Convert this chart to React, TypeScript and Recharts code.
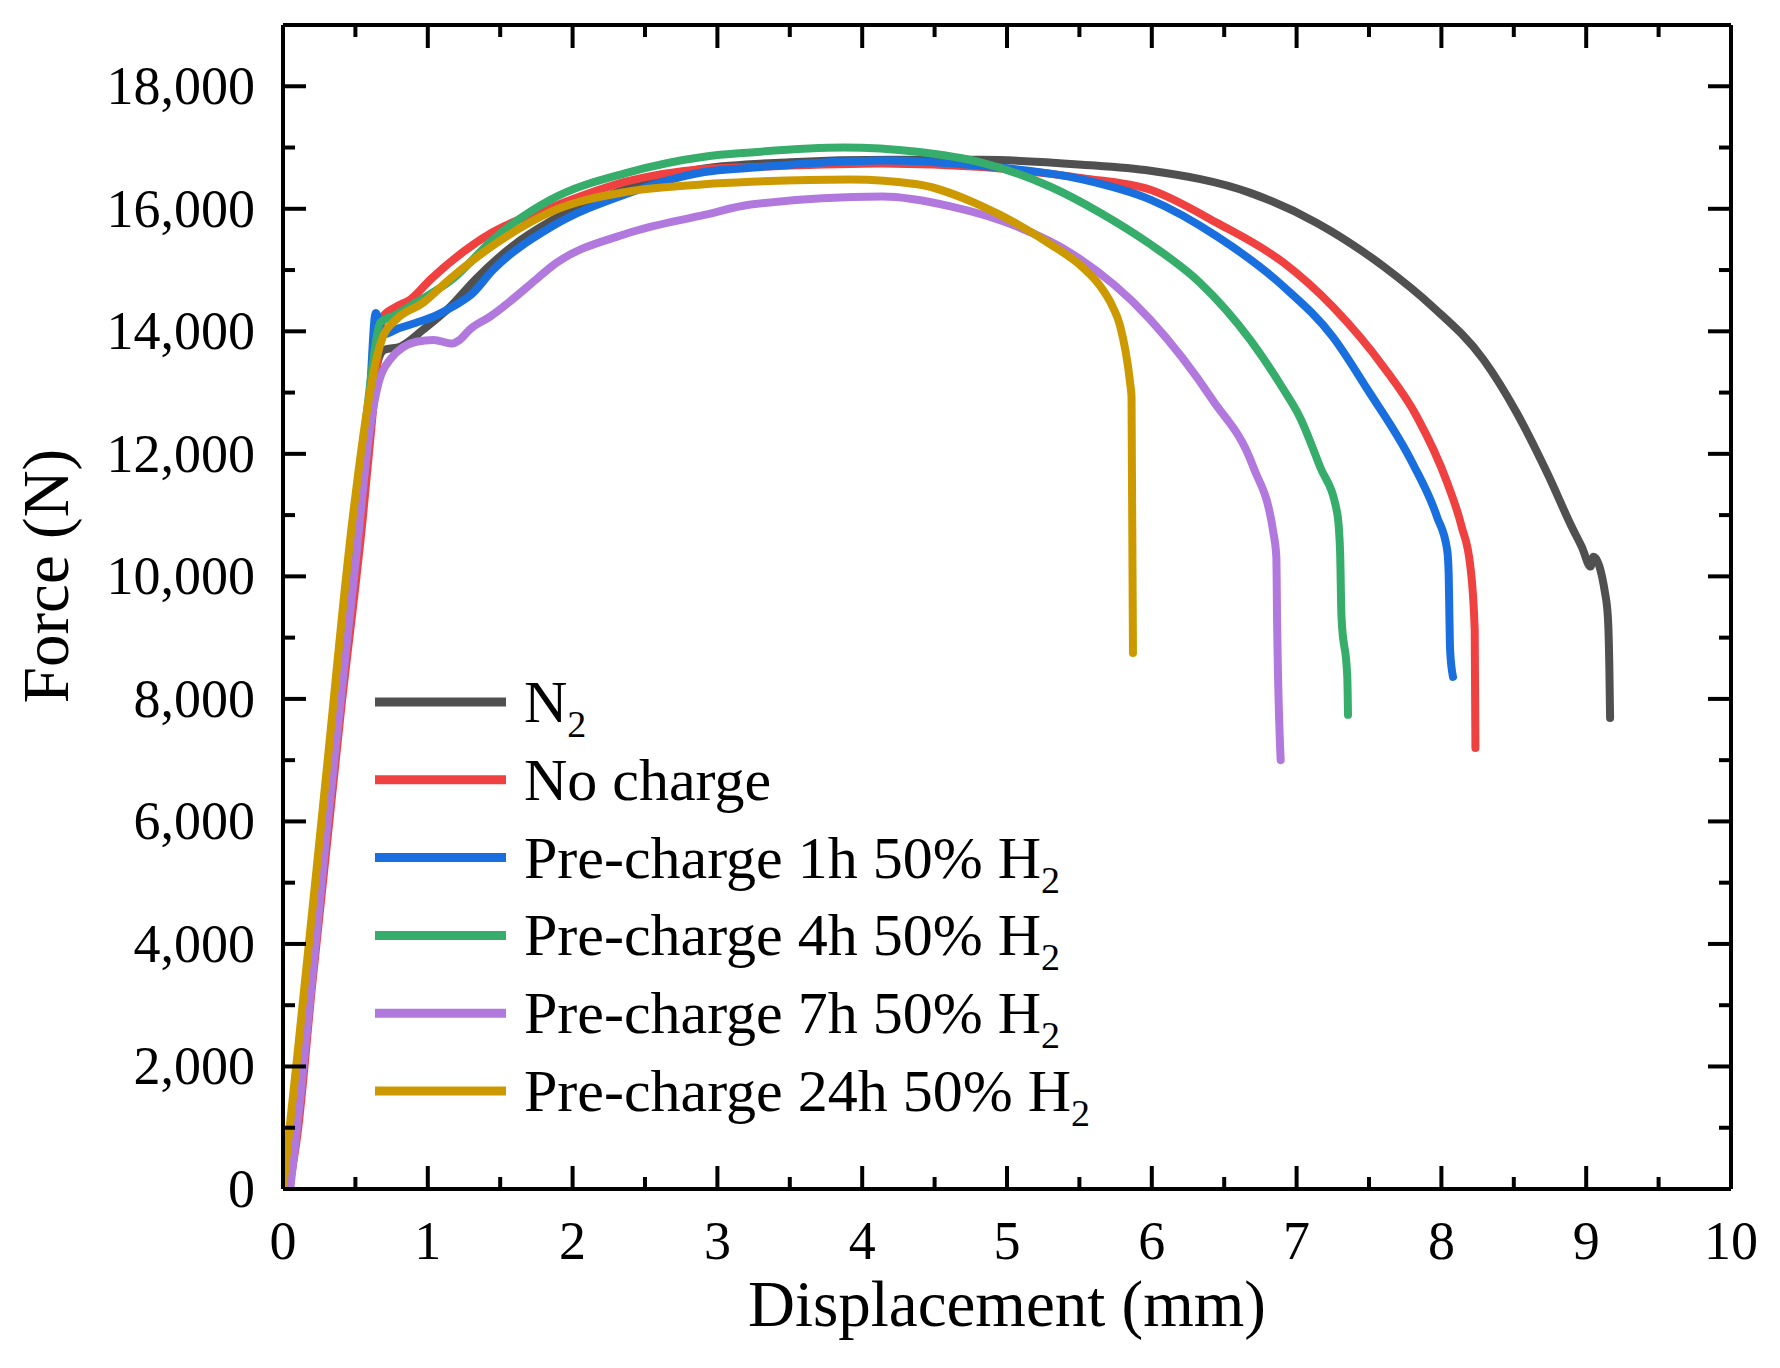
import { LineChart, Line, XAxis, YAxis, Legend, Label } from "recharts";

const FONT = '"Liberation Serif", "Times New Roman", serif';

// displacement (mm), force (N)
const n2Curve = [
  [0.01, 0], [0.08, 1500], [0.3, 6300], [0.5, 10600], [0.6, 12700], [0.66, 13550],
  [0.7, 13700], [0.81, 13750], [0.97, 14030], [1.15, 14390], [1.33, 14850], [1.59, 15400],
  [1.85, 15800], [2.38, 16330], [2.91, 16660], [3.5, 16760], [4.2, 16800], [4.83, 16800],
  [5.52, 16720], [5.99, 16620], [6.68, 16260], [7.14, 15770], [7.6, 15060], [7.94, 14400],
  [8.29, 13540], [8.52, 12670], [8.73, 11690], [8.91, 10760], [8.97, 10480], [9.03, 10160],
  [9.05, 10320], [9.13, 9730], [9.15, 9325], [9.16, 8500], [9.165, 7690],
];
const noChargeCurve = [
  [0.04, 0], [0.1, 900], [0.2, 3300], [0.4, 7800], [0.55, 10930], [0.62, 12670],
  [0.66, 13700], [0.69, 14240], [0.78, 14400], [0.88, 14520], [1.02, 14850], [1.45, 15620],
  [1.85, 16020], [2.38, 16450], [2.91, 16650], [3.23, 16680], [4.14, 16740], [4.83, 16680],
  [5.52, 16500], [5.99, 16310], [6.45, 15770], [6.91, 15120], [7.25, 14400], [7.6, 13420],
  [7.83, 12610], [8.04, 11530], [8.14, 10810], [8.2, 10160], [8.23, 9130], [8.235, 7200],
];
const h1Curve = [
  [0.02, 0], [0.1, 1600], [0.3, 6300], [0.5, 10700], [0.6, 13000], [0.64, 14300],
  [0.66, 14200], [0.69, 13950], [0.8, 14050], [0.92, 14140], [1.05, 14250], [1.17, 14400],
  [1.3, 14600], [1.45, 15000], [1.85, 15700], [2.38, 16250], [2.91, 16600], [3.23, 16670],
  [4.14, 16790], [4.83, 16700], [5.52, 16480], [5.99, 16150], [6.45, 15550], [6.91, 14730],
  [7.25, 13910], [7.49, 13050], [7.8, 11850], [7.97, 10970], [8.04, 10430], [8.05, 10060],
  [8.055, 9400], [8.06, 8800], [8.08, 8360],
];
const h4Curve = [
  [0.02, 0], [0.1, 1700], [0.3, 6400], [0.5, 10800], [0.6, 13100], [0.64, 13800],
  [0.67, 14140], [0.78, 14270], [0.92, 14470], [1.17, 14850], [1.45, 15500], [1.85, 16150],
  [2.38, 16590], [2.91, 16850], [3.23, 16920], [3.87, 17000], [4.38, 16930], [4.83, 16750],
  [5.3, 16360], [5.64, 15940], [5.99, 15420], [6.33, 14800], [6.68, 13860], [6.91, 13050],
  [7.02, 12610], [7.16, 11800], [7.28, 11040], [7.3, 10430], [7.31, 9340], [7.35, 8360],
  [7.355, 7740],
];
const h7Curve = [
  [0.05, 0], [0.12, 1500], [0.3, 5800], [0.5, 10200], [0.6, 12400], [0.66, 13160],
  [0.74, 13540], [0.92, 13830], [1.04, 13860], [1.17, 13800], [1.22, 13860], [1.29, 14030],
  [1.43, 14240], [1.75, 14850], [1.85, 15050], [2.38, 15600], [2.91, 15900], [3.23, 16070],
  [4.14, 16200], [4.61, 16040], [5.07, 15710], [5.46, 15250], [5.99, 14190], [6.42, 12880],
  [6.7, 11790], [6.84, 10710], [6.86, 10320], [6.865, 9340], [6.89, 7000],
];
const h24Curve = [
  [0.0, 0], [0.1, 2200], [0.3, 6800], [0.48, 10930], [0.6, 13000], [0.65, 13600],
  [0.69, 13910], [0.78, 14190], [0.97, 14470], [1.15, 14850], [1.45, 15400], [1.85, 15950],
  [2.38, 16280], [2.91, 16400], [3.23, 16440], [3.92, 16480], [4.38, 16400], [4.83, 16040],
  [5.3, 15420], [5.52, 15050], [5.64, 14750], [5.73, 14400], [5.78, 14100], [5.85, 13160],
  [5.86, 12930], [5.87, 8750],
];

const curves = [n2Curve, noChargeCurve, h1Curve, h4Curve, h7Curve, h24Curve];
const seriesNames = ["N2", "No charge", "Pre-charge 1h 50% H2", "Pre-charge 4h 50% H2", "Pre-charge 7h 50% H2", "Pre-charge 24h 50% H2"];
const legendMain = ["N", "No charge", "Pre-charge 1h 50% H", "Pre-charge 4h 50% H", "Pre-charge 7h 50% H", "Pre-charge 24h 50% H"];
const legendSub = ["2", "", "2", "2", "2", "2"];
const colors = ["#505050", "#f04141", "#1a6fdf", "#37ad6b", "#b178de", "#cc9a00"];

const xTicks = [0, 0.5, 1, 1.5, 2, 2.5, 3, 3.5, 4, 4.5, 5, 5.5, 6, 6.5, 7, 7.5, 8, 8.5, 9, 9.5, 10];
const yTicks = [0, 1000, 2000, 3000, 4000, 5000, 6000, 7000, 8000, 9000, 10000, 11000, 12000, 13000, 14000, 15000, 16000, 17000, 18000];

const isMajorX = (v: number) => Number.isInteger(v);
const isMajorY = (v: number) => v % 2000 === 0;

const BottomTick = ({ x, y, payload }: any) => {
  const major = isMajorX(payload.value);
  return (
    <g>
      <line x1={x} x2={x} y1={y} y2={y - (major ? 23 : 12)} stroke="#000" strokeWidth={4} />
      {major && (
        <text x={x} y={y + 70} textAnchor="middle" fontSize={54} fontFamily={FONT} fill="#000">
          {payload.value}
        </text>
      )}
    </g>
  );
};

const TopTick = ({ x, y, payload }: any) => {
  const major = isMajorX(payload.value);
  return <line x1={x} x2={x} y1={y} y2={y + (major ? 23 : 12)} stroke="#000" strokeWidth={4} />;
};

const LeftTick = ({ x, y, payload }: any) => {
  const major = isMajorY(payload.value);
  return (
    <g>
      <line x1={x} x2={x + (major ? 23 : 12)} y1={y} y2={y} stroke="#000" strokeWidth={4} />
      {major && (
        <text x={x - 28} y={y + 18} textAnchor="end" fontSize={54} fontFamily={FONT} fill="#000">
          {payload.value.toLocaleString("en-US")}
        </text>
      )}
    </g>
  );
};

const RightTick = ({ x, y, payload }: any) => {
  const major = isMajorY(payload.value);
  return <line x1={x} x2={x - (major ? 23 : 12)} y1={y} y2={y} stroke="#000" strokeWidth={4} />;
};

const LegendBox = () => (
  <svg width={900} height={500}>
    {legendMain.map((txt, i) => {
      const cy = 52 + i * 77.8;
      return (
        <g key={seriesNames[i]}>
          <line x1={15} x2={146} y1={cy} y2={cy} stroke={colors[i]} strokeWidth={9} />
          <text x={164} y={cy + 20} fontSize={60} fontFamily={FONT} fill="#000">
            {txt}
            {legendSub[i] && (
              <tspan fontSize={38} dy={15}>
                {legendSub[i]}
              </tspan>
            )}
          </text>
        </g>
      );
    })}
  </svg>
);

const axisLine = { stroke: "#000", strokeWidth: 4 };

export default function App() {
  return (
    <div style={{ position: "absolute", left: 0, top: 0, background: "#fff", fontFamily: FONT }}>
      <LineChart width={1780} height={1368} margin={{ top: 15, right: 39, bottom: 79, left: 0 }}>
        <XAxis
          xAxisId="b"
          type="number"
          dataKey="x"
          domain={[0, 10]}
          ticks={xTicks}
          interval={0}
          allowDataOverflow
          height={100}
          tickSize={0}
          tickMargin={0}
          tickLine={false}
          axisLine={axisLine}
          tick={<BottomTick />}
        >
          <Label
            content={({ viewBox }: any) => (
              <text
                x={viewBox.x + viewBox.width / 2}
                y={viewBox.y + 137}
                textAnchor="middle"
                fontSize={65}
                fontFamily={FONT}
                fill="#000"
              >
                Displacement (mm)
              </text>
            )}
          />
        </XAxis>
        <XAxis
          xAxisId="t"
          orientation="top"
          type="number"
          dataKey="x"
          domain={[0, 10]}
          ticks={xTicks}
          interval={0}
          allowDataOverflow
          height={10}
          tickSize={0}
          tickMargin={0}
          tickLine={false}
          axisLine={axisLine}
          tick={<TopTick />}
        />
        <YAxis
          yAxisId="l"
          type="number"
          domain={[0, 19000]}
          ticks={yTicks}
          interval={0}
          allowDataOverflow
          width={283}
          tickSize={0}
          tickMargin={0}
          tickLine={false}
          axisLine={axisLine}
          tick={<LeftTick />}
        >
          <Label
            content={() => (
              <text
                x={68}
                y={576}
                transform="rotate(-90 68 576)"
                textAnchor="middle"
                fontSize={65}
                fontFamily={FONT}
                fill="#000"
              >
                Force (N)
              </text>
            )}
          />
        </YAxis>
        <YAxis
          yAxisId="r"
          orientation="right"
          type="number"
          domain={[0, 19000]}
          ticks={yTicks}
          interval={0}
          allowDataOverflow
          width={10}
          tickSize={0}
          tickMargin={0}
          tickLine={false}
          axisLine={axisLine}
          tick={<RightTick />}
        />
        <Legend
          layout="vertical"
          align="center"
          verticalAlign="middle"
          content={<LegendBox />}
          wrapperStyle={{ left: 360, top: 650, width: 900, height: 500 }}
        />
        {curves.map((c, i) => (
          <Line
            key={seriesNames[i]}
            xAxisId="b"
            yAxisId="l"
            name={seriesNames[i]}
            data={c.map(([x, y]) => ({ x, y }))}
            dataKey="y"
            type="monotone"
            stroke={colors[i]}
            strokeWidth={8}
            strokeLinecap="round"
            strokeLinejoin="round"
            dot={false}
            activeDot={false}
            isAnimationActive={false}
          />
        ))}
      </LineChart>
    </div>
  );
}
